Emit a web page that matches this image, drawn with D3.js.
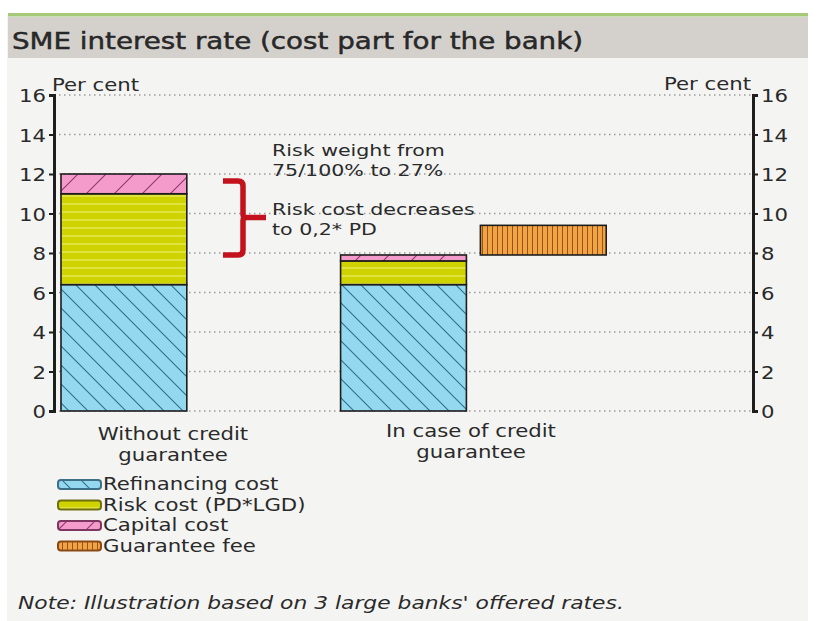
<!DOCTYPE html>
<html>
<head>
<meta charset="utf-8">
<script src="https://cdn.jsdelivr.net/npm/d3@7"></script>
<style>
  html, body { margin: 0; padding: 0; background: #ffffff; }
  svg { display: block; }
  text { font-family: "DejaVu Sans", sans-serif; fill: #2a2a2a; }
</style>
</head>
<body>
<div id="chart"></div>
<script>
// ---- data ----
const categories = ["Without credit guarantee", "In case of credit guarantee"];
const categoryLines = [["Without credit", "guarantee"], ["In case of credit", "guarantee"]];
const refinancingCost = [6.4, 6.4];
const riskCost = [4.6, 1.2];
const capitalCost = [1.0, 0.3];
const guaranteeFee = [0, 1.5];
const seriesNames = ["Refinancing cost", "Risk cost (PD*LGD)", "Capital cost", "Guarantee fee"];
const yTicks = [0, 2, 4, 6, 8, 10, 12, 14, 16];
const titleText = "SME interest rate (cost part for the bank)";
const noteText = "Note: Illustration based on 3 large banks' offered rates.";
const annotationTop = ["Risk weight from", "75/100% to 27%"];
const annotationMid = ["Risk cost decreases", "to 0,2* PD"];

// ---- layout ----
const W = 833, H = 621;
const SX = 1.18; // horizontal text stretch
const plot = { left: 54, right: 753, top: 95, bottom: 411 };

const svg = d3.select("#chart").append("svg").attr("width", W).attr("height", H);

// helper for horizontally stretched text
function sText(parent, x, y, str, size, anchor, extra, sx) {
  const g = parent.append("g").attr("transform", `translate(${x},${y}) scale(${sx || SX},1)`);
  const t = g.append("text").attr("x", 0).attr("y", 0)
    .attr("font-size", size).attr("text-anchor", anchor || "start").text(str);
  if (extra) extra(t);
  return t;
}

// ---- patterns ----
const defs = svg.append("defs");
function hatch(id, bg, fg, w, h, pathD, sw) {
  const p = defs.append("pattern").attr("id", id).attr("patternUnits", "userSpaceOnUse")
    .attr("width", w).attr("height", h);
  p.append("rect").attr("width", w).attr("height", h).attr("fill", bg);
  p.append("path").attr("d", pathD).attr("stroke", fg).attr("stroke-width", sw).attr("fill", "none");
}
// refinancing: "\" diagonals
hatch("pRefi", "#93d8ef", "#2f6f8c", 19, 19, "M-2,-2L21,21M-2,17L2,21M17,-2L21,2", 1.1);
// risk: horizontal light lines
hatch("pRisk", "#cfd300", "#f2f27c", 10, 8, "M0,4H10", 1);
// capital: "/" diagonals
hatch("pCap", "#f59bcb", "#8a3a6c", 28, 28, "M-2,30L30,-2M-2,2L2,-2M26,30L30,26", 1.1);
// guarantee fee: vertical lines
hatch("pFee", "#f2a444", "#94551c", 5, 10, "M2.5,0V10", 1);
const fills = ["url(#pRefi)", "url(#pRisk)", "url(#pCap)", "url(#pFee)"];
const swatchStroke = ["#3d6f86", "#6f6f10", "#7e3562", "#8a4a16"];

// ---- panel background and header ----
svg.append("rect").attr("x", 7).attr("y", 16).attr("width", 801).attr("height", H - 16).attr("fill", "#f4f4f2");
svg.append("rect").attr("x", 8).attr("y", 17).attr("width", 800).attr("height", 41).attr("fill", "#d4d1cd");
svg.append("rect").attr("x", 8).attr("y", 13).attr("width", 800).attr("height", 3.5).attr("fill", "#a6ca78");
sText(svg, 12, 49, titleText, 23.5, "start", t => t.attr("fill", "#1e1e1e").attr("stroke", "#1e1e1e").attr("stroke-width", 0.45));

// ---- scales ----
const y = d3.scaleLinear().domain([0, 16]).range([plot.bottom, plot.top]);
const slots = ["without", "gap", "with", "fee", "end"];
const x = d3.scaleBand().domain(slots).range([plot.left, plot.right]).paddingInner(0.1).paddingOuter(0.05);
const barSlot = ["without", "with"];
const xLabel = d3.scaleBand().domain(categories).range([24, 620]);

// ---- gridlines ----
svg.append("g").selectAll("line").data(yTicks).join("line")
  .attr("x1", plot.left).attr("x2", plot.right)
  .attr("y1", d => y(d)).attr("y2", d => y(d))
  .attr("stroke", "#9a9a9a").attr("stroke-width", 1.3).attr("stroke-dasharray", "1.5,3.5");

// ---- stacked bars ----
const stackRows = categories.map((c, i) => ({
  slot: barSlot[i],
  parts: [refinancingCost[i], riskCost[i], capitalCost[i]]
}));
const barG = svg.append("g");
stackRows.forEach(row => {
  let base = 0;
  row.parts.forEach((v, k) => {
    barG.append("rect")
      .attr("x", x(row.slot)).attr("width", x.bandwidth())
      .attr("y", y(base + v)).attr("height", y(base) - y(base + v))
      .attr("fill", fills[k]).attr("stroke", "#1d1d1d").attr("stroke-width", 1.6);
    base += v;
  });
});
// guarantee fee sits on top of the guaranteed total, in its own slot
categories.forEach((c, i) => {
  if (!guaranteeFee[i]) return;
  const base = refinancingCost[i] + riskCost[i] + capitalCost[i];
  barG.append("rect")
    .attr("x", x("fee")).attr("width", x.bandwidth())
    .attr("y", y(base + guaranteeFee[i])).attr("height", y(base) - y(base + guaranteeFee[i]))
    .attr("fill", fills[3]).attr("stroke", "#1d1d1d").attr("stroke-width", 1.6);
});

// ---- axes ----
function styleAxis(g, side) {
  g.select(".domain").attr("stroke", "#1e1e1e").attr("stroke-width", 3);
  g.selectAll(".tick line").attr("stroke", "#1e1e1e").attr("stroke-width", 2);
  g.selectAll(".tick text").remove();
  g.selectAll(".tick").each(function (d) {
    const tx = side === "left" ? -8 : 8;
    const g2 = d3.select(this).append("g").attr("transform", `translate(${tx},6.5) scale(${SX},1)`);
    g2.append("text").attr("font-size", 18).attr("text-anchor", side === "left" ? "end" : "start")
      .attr("fill", "#333").text(d);
  });
}
svg.append("g").attr("transform", `translate(${plot.left},0)`)
  .call(d3.axisLeft(y).tickValues(yTicks).tickSize(5).tickSizeOuter(5))
  .call(g => styleAxis(g, "left"));
svg.append("g").attr("transform", `translate(${plot.right},0)`)
  .call(d3.axisRight(y).tickValues(yTicks).tickSize(5).tickSizeOuter(5))
  .call(g => styleAxis(g, "right"));

sText(svg, 52, 91, "Per cent", 18, "start");
sText(svg, 751, 90, "Per cent", 18, "end");

// ---- category labels ----
categories.forEach((c, i) => {
  const cx = xLabel(c) + xLabel.bandwidth() / 2;
  categoryLines[i].forEach((line, j) => {
    sText(svg, cx, 440 - i * 3 + j * 21, line, 18, "middle");
  });
});

// ---- annotation: bracket and texts ----
const bx0 = 223, bx1 = 243, bxTip = 266;
const yTopB = y(11.65), yBotB = y(7.9), yMidB = y(9.8);
const bracket = d3.path();
bracket.moveTo(bx0, yTopB);
bracket.lineTo(bx1 - 5, yTopB);
bracket.quadraticCurveTo(bx1, yTopB, bx1, yTopB + 5);
bracket.lineTo(bx1, yMidB - 3);
bracket.quadraticCurveTo(bx1, yMidB, bx1 + 4, yMidB);
bracket.lineTo(bxTip, yMidB);
bracket.moveTo(bx1 + 4, yMidB);
bracket.quadraticCurveTo(bx1, yMidB, bx1, yMidB + 3);
bracket.lineTo(bx1, yBotB - 5);
bracket.quadraticCurveTo(bx1, yBotB, bx1 - 5, yBotB);
bracket.lineTo(bx0, yBotB);
svg.append("path").attr("d", bracket.toString()).attr("fill", "none")
  .attr("stroke", "#c3121d").attr("stroke-width", 5.5).attr("stroke-linejoin", "round");

annotationTop.forEach((line, j) => sText(svg, 272, 156 + j * 19.5, line, 16.2, "start", null, 1.27));
annotationMid.forEach((line, j) => sText(svg, 272, 215 + j * 19.5, line, 16.2, "start", null, 1.27));

// ---- legend ----
const legend = svg.append("g");
seriesNames.forEach((name, k) => {
  const ly = 490 + k * 20.5;
  legend.append("rect").attr("x", 58).attr("y", ly - 10).attr("width", 43).attr("height", 9)
    .attr("rx", 3).attr("fill", fills[k]).attr("stroke", swatchStroke[k]).attr("stroke-width", 2);
  sText(legend, 103, ly, name, 18, "start");
});

// ---- note ----
sText(svg, 18, 609, noteText, 18.5, "start", t => t.attr("font-style", "italic").attr("fill", "#2a2a2a"));
</script>
</body>
</html>
